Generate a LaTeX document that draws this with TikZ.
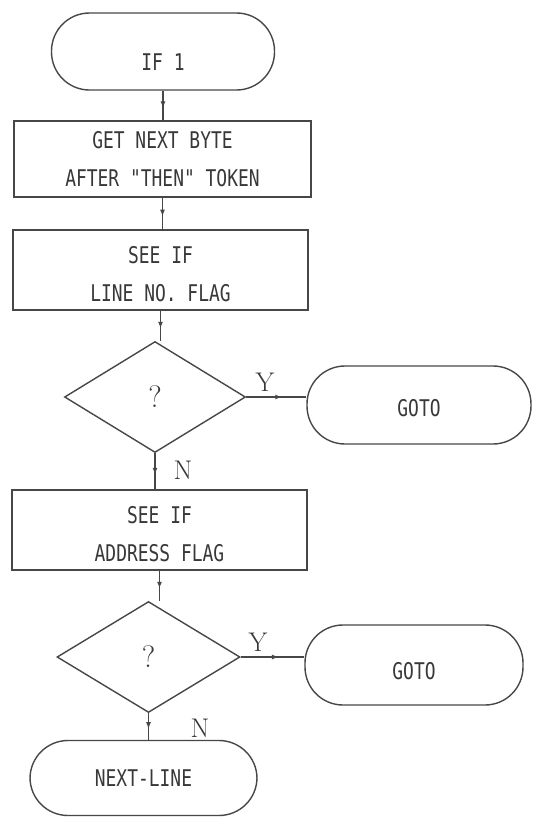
\documentclass[tikz,border=0pt]{standalone}
\usepackage{fontspec}
\newfontfamily\plotfont[FakeStretch=0.78]{DejaVu Sans Mono}
\usetikzlibrary{shapes.geometric,decorations.markings,arrows.meta}

\begin{document}
\begin{tikzpicture}[x=1pt,y=-1pt,
 ink/.style={draw=black!72, line width=1.4pt},
 term/.style={ink, rounded corners=38pt, inner sep=0pt, text=black!78,
   font=\plotfont\fontsize{23}{38}\selectfont, align=center},
 proc/.style={ink, inner sep=0pt, text=black!78,
   font=\plotfont\fontsize{23}{38}\selectfont, align=center},
 dec/.style={ink, diamond, inner sep=0pt, text=black!78,
   font=\fontsize{31}{36}\selectfont},
 flow/.style={ink, postaction={decorate}, decoration={markings,
   mark=at position 0.6 with {\arrow{Latex[length=7pt,width=5pt]}}}},
 lbl/.style={font=\fontsize{27}{32}\selectfont, text=black!78},
 intext/.style={text=black!78, font=\plotfont\fontsize{23}{38}\selectfont, align=center}
]
\useasboundingbox[fill=white] (0,0) rectangle (533,817);

\node[term, minimum width=223pt, minimum height=77pt,
  label={[intext, yshift=-11pt]center:IF 1}] (start) at (163,51.5) {};
\node[proc, minimum width=297pt, minimum height=76pt] (b1) at (162.5,159) {GET NEXT BYTE\\AFTER "THEN" TOKEN};
\node[proc, minimum width=295pt, minimum height=80pt,
  label={[intext, yshift=-4pt]center:SEE IF\\LINE NO. FLAG}] (b2) at (160.5,270) {};
\node[dec, minimum width=181pt, minimum height=111pt] (d1) at (155,397) {?};
\node[term, minimum width=224pt, minimum height=78pt,
  label={[intext, yshift=-3pt]center:GOTO}] (goto1) at (419,405) {};
\node[proc, minimum width=295pt, minimum height=80pt,
  label={[intext, yshift=-4pt]center:SEE IF\\ADDRESS FLAG}] (b3) at (159.5,530) {};
\node[dec, minimum width=183pt, minimum height=111pt] (d2) at (148.5,657) {?};
\node[term, minimum width=218pt, minimum height=80pt,
  label={[intext, yshift=-6pt]center:GOTO}] (goto2) at (414,665) {};
\node[term, minimum width=227pt, minimum height=75pt] (next) at (143.5,778) {NEXT-LINE};

\draw[flow] (start.south) -- (start.south |- b1.north);
\draw[flow] (b1.south) -- (b1.south |- b2.north);
\draw[flow] (b2.south) -- (b2.south |- d1.north);
\draw[flow] (d1.east) -- (d1.east -| goto1.west);
\draw[flow] (d1.south) -- (d1.south |- b3.north);
\draw[flow] (b3.south) -- (b3.south |- d2.north);
\draw[flow] (d2.east) -- (d2.east -| goto2.west);
\draw[flow] (d2.south) -- (d2.south |- next.north);

\node[lbl] (y1) at (265,382) {Y};
\node[lbl] (n1) at (183,470) {N};
\node[lbl] (y2) at (258,642) {Y};
\node[lbl] (n2) at (200,728) {N};
\end{tikzpicture}
\end{document}
